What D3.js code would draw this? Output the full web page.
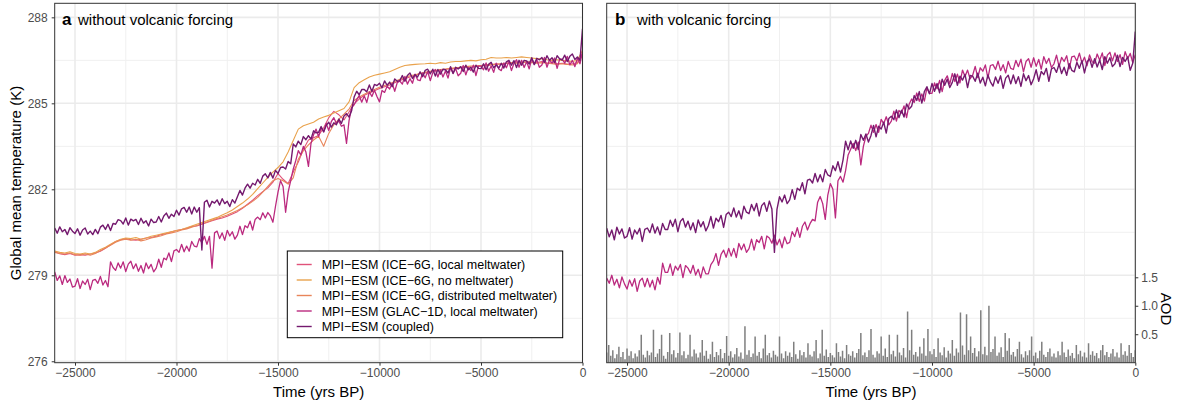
<!DOCTYPE html>
<html>
<head>
<meta charset="utf-8">
<script src="https://cdn.jsdelivr.net/npm/d3@7"></script>
<style>
  body { margin: 0; background: #fff; }
  text { font-family: "Liberation Sans", Arial, sans-serif; }
</style>
</head>
<body>
<script>
// Time grids (yrs BP): the ICE-6G runs are read every 250 years,
// the noisier runs every 125 years (one row below = 1000 years)
var times = d3.range(-26000, 1, 250);
var timesFine = d3.range(-26000, 1, 125);

// Global mean temperature (K)
var ice6gLocal = [
  279.82, 279.75, 279.72, 279.76, 279.70, 279.72, 279.70, 279.74, 279.78, 279.84,
  279.94, 280.06, 280.18, 280.24, 280.28, 280.24, 280.22, 280.26, 280.30, 280.32,
  280.36, 280.42, 280.46, 280.52, 280.56, 280.60, 280.64, 280.70, 280.72, 280.78,
  280.84, 280.90, 280.96, 281.00, 281.06, 281.14, 281.22, 281.34, 281.48, 281.62,
  281.78, 281.92, 282.05, 282.25, 282.55, 282.35, 282.20, 282.60, 282.95, 283.40,
  283.72, 283.80, 283.88, 284.15, 284.50, 284.72, 284.60, 284.42, 284.70, 284.98,
  285.15, 285.28, 285.36, 285.44, 285.52, 285.58, 285.64, 285.72, 285.80, 285.86,
  285.92, 285.98, 286.04, 286.06, 286.10, 286.14, 286.16, 286.18, 286.22, 286.20,
  286.24, 286.28, 286.26, 286.30, 286.32, 286.30, 286.34, 286.38, 286.36, 286.40,
  286.42, 286.44, 286.40, 286.46, 286.44, 286.42, 286.46, 286.40, 286.42, 286.38,
  286.40, 286.36, 286.38, 286.42, 286.75
];
var ice6gNoMelt = [
  279.85, 279.80, 279.78, 279.82, 279.76, 279.74, 279.78, 279.74, 279.80, 279.90,
  279.98, 280.08, 280.18, 280.26, 280.30, 280.28, 280.32, 280.26, 280.30, 280.36,
  280.40, 280.44, 280.48, 280.52, 280.56, 280.60, 280.66, 280.72, 280.78, 280.84,
  280.90, 280.96, 281.02, 281.10, 281.18, 281.28, 281.40, 281.52, 281.66, 281.82,
  282.02, 282.22, 282.42, 282.60, 282.76, 282.96, 283.30, 283.70, 284.10, 284.22,
  284.28, 284.34, 284.45, 284.52, 284.58, 284.66, 284.74, 284.82, 285.05, 285.55,
  285.72, 285.82, 285.92, 285.98, 286.02, 286.06, 286.10, 286.18, 286.26, 286.32,
  286.34, 286.36, 286.37, 286.38, 286.40, 286.38, 286.42, 286.40, 286.44, 286.46,
  286.46, 286.48, 286.50, 286.48, 286.52, 286.54, 286.60, 286.58, 286.58, 286.60,
  286.58, 286.60, 286.62, 286.60, 286.58, 286.56, 286.55, 286.52, 286.50, 286.52,
  286.50, 286.48, 286.46, 286.50, 286.85
];
var ice6gDistributed = [
  279.80, 279.76, 279.74, 279.78, 279.72, 279.70, 279.74, 279.70, 279.76, 279.86,
  279.95, 280.05, 280.15, 280.22, 280.26, 280.22, 280.26, 280.20, 280.24, 280.30,
  280.34, 280.38, 280.44, 280.48, 280.52, 280.58, 280.62, 280.68, 280.74, 280.80,
  280.86, 280.92, 280.98, 281.04, 281.10, 281.18, 281.26, 281.36, 281.46, 281.58,
  281.72, 281.90, 282.10, 282.30, 282.38, 282.30, 282.18, 282.40, 283.05, 283.35,
  283.55, 283.72, 283.85, 283.50, 283.95, 284.25, 284.45, 284.62, 284.80, 285.10,
  285.22, 285.32, 285.40, 285.48, 285.56, 285.62, 285.68, 285.76, 285.84, 285.90,
  285.96, 286.00, 286.04, 286.08, 286.12, 286.14, 286.18, 286.20, 286.22, 286.24,
  286.26, 286.28, 286.30, 286.30, 286.32, 286.34, 286.36, 286.36, 286.38, 286.40,
  286.42, 286.40, 286.42, 286.44, 286.42, 286.40, 286.42, 286.40, 286.38, 286.36,
  286.38, 286.36, 286.34, 286.38, 286.70
];
var glac1dLocal = [
  279.12, 278.82, 278.98, 278.68, 278.99, 278.75, 278.87, 278.59,
  278.62, 278.88, 278.54, 278.80, 278.68, 278.86, 278.50, 278.82,
  278.86, 278.72, 278.96, 278.66, 278.82, 278.60, 279.47, 279.27,
  279.17, 279.43, 279.25, 279.47, 279.13, 279.39, 279.49, 279.23,
  279.40, 279.14, 279.34, 279.08, 279.43, 279.23, 279.38, 279.12,
  279.25, 279.56, 279.28, 279.60, 279.54, 279.78, 279.48, 279.85,
  279.90, 279.80, 280.08, 279.82, 280.02, 279.84, 280.18, 280.02,
  279.99, 280.28, 280.14, 280.36, 280.08, 280.36, 279.25, 280.48,
  280.54, 280.28, 280.48, 280.22, 280.57, 280.37, 280.52, 280.26,
  280.40, 280.71, 280.42, 280.73, 280.66, 280.89, 280.58, 280.95,
  281.03, 280.94, 281.18, 281.00, 281.19, 281.07, 280.85, 281.40,
  281.90, 282.30, 282.10, 281.20, 281.90, 282.30, 282.70, 283.00,
  283.35, 283.20, 283.50, 283.30, 282.80, 283.60, 283.90, 284.10,
  283.84, 284.15, 284.00, 284.30, 284.05, 284.36, 284.50, 284.30,
  284.38, 284.20, 284.25, 283.60, 284.40, 284.85, 284.95, 285.12,
  285.27, 285.04, 285.26, 285.03, 285.40, 285.24, 285.46, 285.24,
  285.05, 285.45, 285.38, 285.60, 285.50, 285.70, 285.42, 285.72,
  285.78, 285.67, 285.94, 285.67, 285.86, 285.70, 286.02, 285.82,
  285.79, 286.06, 285.89, 286.11, 285.79, 286.07, 286.18, 285.92,
  286.17, 285.92, 286.13, 285.88, 286.24, 286.05, 286.21, 285.96,
  286.05, 286.32, 285.99, 286.25, 286.14, 286.33, 285.97, 286.30,
  286.30, 286.17, 286.41, 286.12, 286.30, 286.08, 286.40, 286.20,
  286.14, 286.41, 286.24, 286.46, 286.14, 286.40, 286.52, 286.26,
  286.50, 286.25, 286.45, 286.20, 286.56, 286.36, 286.52, 286.26,
  286.34, 286.60, 286.26, 286.52, 286.40, 286.58, 286.22, 286.54,
  286.54, 286.40, 286.64, 286.34, 286.50, 286.28, 286.58, 286.38,
  286.80
];
var coupled = [
  280.65, 280.47, 280.69, 280.52, 280.60, 280.42, 280.66, 280.54,
  280.46, 280.62, 280.40, 280.58, 280.65, 280.44, 280.54, 280.42,
  280.60, 280.45, 280.68, 280.75, 280.60, 280.78, 280.56, 280.81,
  280.78, 280.94, 280.91, 280.79, 281.00, 280.75, 280.96, 280.90,
  280.95, 280.77, 280.99, 280.82, 280.90, 280.72, 280.96, 280.84,
  280.86, 281.05, 280.86, 281.07, 281.17, 280.99, 281.13, 281.05,
  281.27, 281.10, 281.32, 281.37, 281.20, 281.38, 281.14, 281.38,
  281.20, 281.36, 279.88, 281.55, 281.62, 281.38, 281.58, 281.52,
  281.63, 281.45, 281.67, 281.50, 281.58, 281.40, 281.64, 281.52,
  281.74, 281.96, 281.80, 282.04, 282.18, 282.04, 282.21, 282.15,
  282.35, 282.21, 282.46, 282.54, 282.40, 282.59, 282.39, 282.66,
  282.55, 282.76, 282.78, 282.71, 282.97, 282.89, 283.58, 283.48,
  283.68, 283.56, 283.84, 283.73, 283.87, 283.75, 284.04, 283.97,
  283.99, 284.19, 284.01, 284.23, 284.34, 284.17, 284.32, 284.25,
  284.45, 284.30, 284.56, 284.64, 284.52, 284.74, 285.22, 285.42,
  285.30, 285.48, 285.48, 285.40, 285.64, 285.41, 285.66, 285.62,
  285.70, 285.54, 285.78, 285.63, 285.74, 285.58, 285.85, 285.77,
  285.79, 285.97, 285.77, 285.97, 286.06, 285.87, 286.00, 285.92,
  286.10, 285.93, 286.15, 286.19, 286.03, 286.19, 285.95, 286.18,
  286.02, 286.19, 286.17, 286.06, 286.28, 286.04, 286.26, 286.20,
  286.28, 286.11, 286.33, 286.17, 286.26, 286.09, 286.33, 286.22,
  286.21, 286.38, 286.17, 286.36, 286.43, 286.24, 286.34, 286.23,
  286.40, 286.23, 286.45, 286.50, 286.33, 286.49, 286.25, 286.50,
  286.33, 286.50, 286.48, 286.37, 286.59, 286.35, 286.57, 286.52,
  286.60, 286.43, 286.66, 286.50, 286.59, 286.42, 286.66, 286.55,
  286.51, 286.68, 286.46, 286.64, 286.72, 286.53, 286.62, 286.50,
  287.60
];

// panel b: runs with volcanic forcing
var volcGlac1d = [
  278.90, 278.72, 279.00, 278.66, 278.86, 278.56, 278.94, 278.70,
  278.52, 278.84, 278.62, 278.88, 278.44, 278.80, 278.90, 278.60,
  278.89, 278.59, 278.83, 278.49, 278.93, 278.69, 279.42, 279.10,
  279.10, 279.40, 279.00, 279.32, 279.18, 279.38, 278.92, 279.34,
  279.25, 279.07, 279.35, 279.01, 279.21, 278.91, 279.29, 279.05,
  279.05, 279.37, 279.50, 279.76, 279.35, 279.73, 279.88, 279.63,
  279.94, 279.67, 279.94, 279.62, 280.11, 279.89, 280.09, 279.80,
  279.93, 280.26, 279.88, 280.24, 280.14, 280.36, 279.92, 280.37,
  280.30, 280.12, 280.40, 280.06, 280.26, 279.96, 280.34, 280.10,
  280.15, 280.52, 280.35, 280.66, 280.32, 280.71, 280.86, 280.58,
  280.80, 280.95, 280.90, 281.55, 281.75, 281.50, 280.95, 281.80,
  282.20, 282.00, 281.00, 282.30, 282.45, 282.25, 282.65, 283.20,
  283.40, 283.60, 283.35, 283.65, 282.85, 283.50, 283.85, 283.95,
  284.24, 283.99, 284.26, 283.99, 284.44, 284.29, 284.53, 284.25,
  284.38, 284.73, 284.38, 284.75, 284.66, 284.91, 284.50, 284.97,
  285.15, 285.03, 285.36, 285.07, 285.33, 285.08, 285.54, 285.35,
  285.35, 285.71, 285.51, 285.80, 285.41, 285.80, 285.96, 285.68,
  286.04, 285.76, 286.02, 285.71, 286.16, 285.94, 286.16, 285.85,
  285.98, 286.29, 285.90, 286.24, 286.12, 286.34, 285.88, 286.32,
  286.35, 286.18, 286.47, 286.14, 286.35, 286.06, 286.46, 286.22,
  286.18, 286.50, 286.28, 286.54, 286.10, 286.46, 286.56, 286.26,
  286.59, 286.29, 286.53, 286.19, 286.63, 286.39, 286.57, 286.25,
  286.38, 286.68, 286.28, 286.60, 286.46, 286.66, 286.20, 286.62,
  286.65, 286.47, 286.75, 286.41, 286.61, 286.31, 286.69, 286.45,
  286.40, 286.72, 286.50, 286.76, 286.32, 286.68, 286.78, 286.48,
  286.76, 286.46, 286.70, 286.36, 286.80, 286.56, 286.74, 286.42,
  286.70
];
var volcCoupled = [
  280.64, 280.34, 280.58, 280.24, 280.68, 280.44, 280.62, 280.30,
  280.36, 280.66, 280.26, 280.58, 280.44, 280.64, 280.18, 280.60,
  280.65, 280.49, 280.79, 280.47, 280.69, 280.41, 280.81, 280.60,
  280.60, 280.92, 280.70, 280.96, 280.52, 280.88, 280.98, 280.68,
  280.89, 280.59, 280.83, 280.49, 280.93, 280.69, 280.87, 280.55,
  280.73, 281.05, 280.65, 280.99, 280.87, 281.09, 280.67, 281.12,
  281.20, 281.05, 281.35, 281.03, 281.25, 280.97, 281.41, 281.20,
  281.15, 281.47, 281.25, 281.51, 281.07, 281.43, 281.53, 281.23,
  281.59, 281.31, 279.80, 281.30, 281.74, 281.56, 281.80, 281.50,
  281.63, 281.99, 281.65, 282.04, 281.96, 282.23, 281.84, 282.32,
  282.35, 282.22, 282.55, 282.26, 282.51, 282.26, 282.69, 282.50,
  282.45, 282.82, 282.65, 282.96, 282.60, 283.03, 283.68, 283.38,
  283.69, 283.43, 283.71, 283.39, 283.91, 283.71, 283.93, 283.65,
  283.88, 284.23, 283.83, 284.20, 284.10, 284.34, 283.96, 284.47,
  284.55, 284.43, 284.77, 284.50, 284.76, 284.52, 284.98, 284.80,
  284.90, 285.27, 285.10, 285.41, 285.01, 285.41, 285.58, 285.33,
  285.69, 285.42, 285.69, 285.37, 285.84, 285.63, 285.84, 285.55,
  285.73, 286.03, 285.63, 285.95, 285.81, 286.01, 285.55, 285.97,
  285.95, 285.77, 286.05, 285.71, 285.91, 285.61, 285.99, 285.75,
  285.60, 285.92, 285.70, 285.96, 285.52, 285.88, 285.98, 285.68,
  285.99, 285.69, 285.93, 285.59, 286.03, 285.79, 285.97, 285.65,
  285.86, 286.17, 285.77, 286.11, 286.00, 286.22, 285.77, 286.20,
  286.25, 286.08, 286.37, 286.04, 286.26, 285.98, 286.38, 286.15,
  286.10, 286.43, 286.22, 286.49, 286.06, 286.44, 286.55, 286.26,
  286.56, 286.27, 286.51, 286.18, 286.63, 286.40, 286.59, 286.28,
  286.38, 286.68, 286.28, 286.60, 286.46, 286.62, 286.15, 286.40,
  287.50
];

// Volcanic aerosol optical depth, one value every 100 years
var aodTimes = d3.range(-26000, 1, 100);
var aod = [
  0.18, 0.31, 0.12, 0.22, 0.08, 0.15, 0.28, 0.10, 0.19, 0.06,
  0.25, 0.12, 0.20, 0.08, 0.16, 0.11, 0.22, 0.49, 0.14, 0.09,
  0.21, 0.13, 0.18, 0.58, 0.10, 0.16, 0.24, 0.49, 0.12, 0.07,
  0.19, 0.52, 0.15, 0.22, 0.09, 0.17, 0.53, 0.13, 0.20, 0.08,
  0.14, 0.49, 0.11, 0.23, 0.16, 0.09, 0.18, 0.40, 0.12, 0.21,
  0.07, 0.15, 0.37, 0.10, 0.19, 0.13, 0.24, 0.08, 0.17, 0.47,
  0.12, 0.20, 0.09, 0.15, 0.26, 0.11, 0.18, 0.07, 0.64, 0.14,
  0.22, 0.10, 0.16, 0.46, 0.12, 0.19, 0.08, 0.25, 0.49, 0.13,
  0.17, 0.09, 0.21, 0.14, 0.11, 0.46, 0.16, 0.08, 0.20, 0.12,
  0.18, 0.10, 0.37, 0.15, 0.07, 0.22, 0.13, 0.19, 0.09, 0.34,
  0.14, 0.11, 0.20, 0.40, 0.08, 0.16, 0.58, 0.12, 0.23, 0.10,
  0.17, 0.13, 0.09, 0.34, 0.19, 0.11, 0.21, 0.08, 0.31, 0.15,
  0.12, 0.20, 0.09, 0.17, 0.24, 0.52, 0.13, 0.18, 0.10, 0.22,
  0.59, 0.14, 0.09, 0.20, 0.16, 0.46, 0.12, 0.25, 0.10, 0.49,
  0.15, 0.21, 0.11, 0.49, 0.18, 0.13, 0.26, 0.09, 0.90, 0.22,
  0.58, 0.14, 0.19, 0.11, 0.28, 0.16, 0.43, 0.12, 0.59, 0.20,
  0.15, 0.24, 0.10, 0.43, 0.18, 0.13, 0.27, 0.09, 0.21, 0.16,
  0.40, 0.12, 0.25, 0.18, 0.88, 0.30, 0.14, 0.85, 0.22, 0.46,
  0.17, 0.26, 0.11, 0.20, 0.92, 0.15, 0.28, 0.13, 1.00, 0.19,
  0.24, 0.46, 0.12, 0.18, 0.27, 0.10, 0.52, 0.21, 0.43, 0.14,
  0.19, 0.11, 0.24, 0.37, 0.15, 0.09, 0.20, 0.13, 0.22, 0.46,
  0.12, 0.18, 0.08, 0.21, 0.37, 0.14, 0.10, 0.19, 0.25, 0.11,
  0.16, 0.09, 0.20, 0.13, 0.37, 0.18, 0.10, 0.23, 0.12, 0.17,
  0.08, 0.31, 0.15, 0.21, 0.11, 0.18, 0.09, 0.34, 0.14, 0.20,
  0.12, 0.17, 0.08, 0.22, 0.31, 0.13, 0.19, 0.10, 0.16, 0.24,
  0.11, 0.18, 0.09, 0.34, 0.14, 0.20, 0.12, 0.31, 0.17, 0.10,
  0.22
];

// Axis ticks
var xMajor = [-25000, -20000, -15000, -10000, -5000, 0];
var xMinor = [-22500, -17500, -12500, -7500, -2500];
var yMajor = [276, 279, 282, 285, 288];
var yMinor = [277.5, 280.5, 283.5, 286.5];
var aodTicks = [0.5, 1.0, 1.5];

// Legend labels + colours
var seriesNames = [
  'MPI\u2212ESM (ICE\u22126G, local meltwater)',
  'MPI\u2212ESM (ICE\u22126G, no meltwater)',
  'MPI\u2212ESM (ICE\u22126G, distributed meltwater)',
  'MPI\u2212ESM (GLAC\u22121D, local meltwater)',
  'MPI\u2212ESM (coupled)'
];
var seriesColors = ['#e0527a', '#e9a24c', '#e8855a', '#bb2a7f', '#74196e'];
var seriesWidths = [1.1, 1.1, 1.1, 1.3, 1.4];

// Set up size
var svgWidth = 1178, svgHeight = 407;
var panelTop = 3.3, panelBottom = 362.7;
var panelA = {left: 54.7, right: 582.5};
var panelB = {left: 606.7, right: 1135.3};

var svg = d3.select('body').append('svg')
  .attr('width', svgWidth)
  .attr('height', svgHeight);

var y = d3.scaleLinear().domain([275.95, 288.49]).range([panelBottom, panelTop]);
var yAod = d3.scaleLinear().domain([0, 1.5]).range([panelBottom, y(278.93)]);

function styleAxis(g) {
  g.select('.domain').remove();
  g.selectAll('.tick line').attr('stroke', '#333333');
  g.selectAll('.tick text').attr('fill', '#4d4d4d').style('font-size', '12px')
    .style('font-family', '"Liberation Sans", Arial, sans-serif');
}

function drawPanel(p, id) {
  var x = d3.scaleLinear().domain([-26000, 0]).range([p.left, p.right]);
  var g = svg.append('g');

  svg.append('clipPath').attr('id', 'clip-' + id)
    .append('rect')
    .attr('x', p.left).attr('y', panelTop)
    .attr('width', p.right - p.left).attr('height', panelBottom - panelTop);

  // grid
  g.selectAll('.ygmin').data(yMinor).enter().append('line')
    .attr('x1', p.left).attr('x2', p.right)
    .attr('y1', d => y(d)).attr('y2', d => y(d))
    .attr('stroke', '#f0f0f0').attr('stroke-width', 1);
  g.selectAll('.xgmin').data(xMinor).enter().append('line')
    .attr('x1', d => x(d)).attr('x2', d => x(d))
    .attr('y1', panelTop).attr('y2', panelBottom)
    .attr('stroke', '#f0f0f0').attr('stroke-width', 1);
  g.selectAll('.ygmaj').data(yMajor).enter().append('line')
    .attr('x1', p.left).attr('x2', p.right)
    .attr('y1', d => y(d)).attr('y2', d => y(d))
    .attr('stroke', '#ebebeb').attr('stroke-width', 1.6);
  g.selectAll('.xgmaj').data(xMajor).enter().append('line')
    .attr('x1', d => x(d)).attr('x2', d => x(d))
    .attr('y1', panelTop).attr('y2', panelBottom)
    .attr('stroke', '#ebebeb').attr('stroke-width', 1.6);

  // x axis
  var xa = svg.append('g')
    .attr('transform', 'translate(0,' + panelBottom + ')')
    .call(d3.axisBottom(x).tickValues(xMajor).tickFormat(d3.format('d'))
      .tickSize(3).tickPadding(3));
  styleAxis(xa);

  svg.append('text')
    .attr('x', (p.left + p.right) / 2).attr('y', 397)
    .attr('text-anchor', 'middle')
    .style('font-size', '15px')
    .text('Time (yrs BP)');

  var plot = svg.append('g').attr('clip-path', 'url(#clip-' + id + ')');
  return {x: x, plot: plot};
}

function addLine(panel, t, values, color, width) {
  var line = d3.line()
    .x((d, i) => panel.x(t[i]))
    .y(d => y(d));
  panel.plot.append('path')
    .datum(values)
    .attr('d', line)
    .attr('fill', 'none')
    .attr('stroke', color)
    .attr('stroke-width', width)
    .attr('stroke-linejoin', 'round');
}

function addBorder(p) {
  svg.append('rect')
    .attr('x', p.left).attr('y', panelTop)
    .attr('width', p.right - p.left).attr('height', panelBottom - panelTop)
    .attr('fill', 'none').attr('stroke', '#333333').attr('stroke-width', 1);
}

// ---- panel a
var a = drawPanel(panelA, 'a');
var ya = svg.append('g')
  .attr('transform', 'translate(' + panelA.left + ',0)')
  .call(d3.axisLeft(y).tickValues(yMajor).tickSize(3).tickPadding(4));
styleAxis(ya);

addLine(a, times, ice6gLocal, seriesColors[0], seriesWidths[0]);
addLine(a, times, ice6gNoMelt, seriesColors[1], seriesWidths[1]);
addLine(a, times, ice6gDistributed, seriesColors[2], seriesWidths[2]);
addLine(a, timesFine, glac1dLocal, seriesColors[3], seriesWidths[3]);
addLine(a, timesFine, coupled, seriesColors[4], seriesWidths[4]);
addBorder(panelA);

svg.append('text')
  .attr('transform', 'translate(21,183) rotate(-90)')
  .attr('text-anchor', 'middle')
  .style('font-size', '15px')
  .text('Global mean temperature (K)');

svg.append('text').attr('x', 62).attr('y', 25)
  .style('font-size', '17px').style('font-weight', 'bold').text('a');
svg.append('text').attr('x', 78).attr('y', 25)
  .style('font-size', '15px').text('without volcanic forcing');

// legend
var legend = svg.append('g');
legend.append('rect')
  .attr('x', 287.3).attr('y', 251).attr('width', 275.4).attr('height', 86.7)
  .attr('fill', '#ffffff').attr('stroke', '#000000').attr('stroke-width', 1);
seriesNames.forEach(function (name, i) {
  var ly = 264.5 + i * 15.5;
  legend.append('line')
    .attr('x1', 296.7).attr('x2', 311.7).attr('y1', ly).attr('y2', ly)
    .attr('stroke', seriesColors[i]).attr('stroke-width', 1.4);
  legend.append('text')
    .attr('x', 321.7).attr('y', ly).attr('dy', '0.36em')
    .style('font-size', '12.5px')
    .text(name);
});

// ---- panel b
var b = drawPanel(panelB, 'b');

b.plot.selectAll('.aod').data(aod).enter().append('line')
  .attr('x1', (d, i) => b.x(aodTimes[i])).attr('x2', (d, i) => b.x(aodTimes[i]))
  .attr('y1', yAod(0)).attr('y2', d => yAod(d))
  .attr('stroke', '#7f7f7f').attr('stroke-width', 1.5);

addLine(b, timesFine, volcGlac1d, seriesColors[3], 1.3);
addLine(b, timesFine, volcCoupled, seriesColors[4], 1.4);
addBorder(panelB);

var yb = svg.append('g')
  .attr('transform', 'translate(' + panelB.right + ',0)')
  .call(d3.axisRight(yAod).tickValues(aodTicks).tickFormat(d3.format('.1f')).tickSize(3).tickPadding(3));
styleAxis(yb);

svg.append('text')
  .attr('transform', 'translate(1161,309) rotate(90)')
  .attr('text-anchor', 'middle')
  .style('font-size', '15px')
  .text('AOD');

svg.append('text').attr('x', 615).attr('y', 25)
  .style('font-size', '17px').style('font-weight', 'bold').text('b');
svg.append('text').attr('x', 637).attr('y', 25)
  .style('font-size', '15px').text('with volcanic forcing');
</script>
</body>
</html>
